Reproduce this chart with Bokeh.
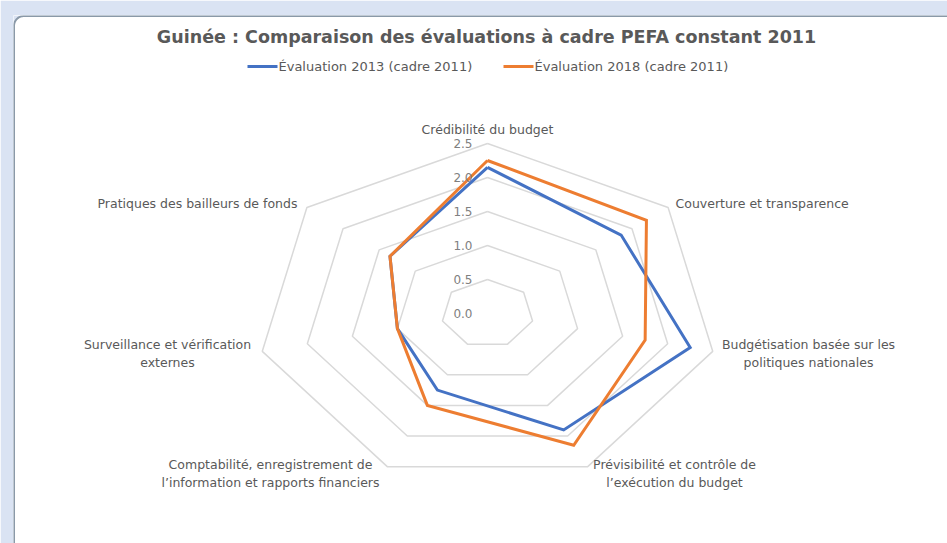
import numpy as np
from bokeh.plotting import figure
from bokeh.models import Range1d
from bokeh.embed import file_html
from bokeh.resources import INLINE
from bokeh.core.properties import value

# ---------------- data ----------------
categories = [
    "Crédibilité du budget",
    "Couverture et transparence",
    "Budgétisation basée sur les\npolitiques nationales",
    "Prévisibilité et contrôle de\nl’exécution du budget",
    "Comptabilité, enregistrement de\nl’information et rapports financiers",
    "Surveillance et vérification\nexternes",
    "Pratiques des bailleurs de fonds",
]
eval_2013 = [2.15, 1.85, 2.25, 1.90, 1.25, 1.00, 1.35]
eval_2018 = [2.25, 2.20, 1.75, 2.15, 1.50, 1.00, 1.35]
series_names = ["Évaluation 2013 (cadre 2011)", "Évaluation 2018 (cadre 2011)"]
ring_values = [0.5, 1.0, 1.5, 2.0, 2.5]
tick_values = [0.0, 0.5, 1.0, 1.5, 2.0, 2.5]
tick_labels = ["0.0", "0.5", "1.0", "1.5", "2.0", "2.5"]
title_text = "Guinée : Comparaison des évaluations à cadre PEFA constant 2011"

# ---------------- layout ----------------
W, H = 947, 543
CX, CY = 487, 313          # radar centre (window px)
KX, KY = 92.4, 68.0        # px per unit horizontally / vertically
FL, FT = 13, 15            # frame left / top (window px)
FR, FB = W, H

def dx(px):
    return (px - CX) / KX

def dy(py):
    return (CY - py) / KY

BLUE = "#4472c4"
ORANGE = "#ed7d31"
GRID = "#d9d9d9"
TXT = "#595959"
FONT = value("DejaVu Sans")

p = figure(width=W, height=H, output_backend="svg", toolbar_location=None,
           x_range=Range1d(dx(FL), dx(FR)), y_range=Range1d(dy(FB), dy(FT)),
           min_border_left=FL, min_border_top=FT,
           min_border_right=0, min_border_bottom=0,
           x_axis_location=None, y_axis_location=None)
p.grid.visible = False
p.outline_line_color = None
p.background_fill_color = "white"
p.border_fill_color = "#dae3f3"

n = len(categories)
theta = np.arange(n) * 2 * np.pi / n

def closed(vals):
    v = np.asarray(vals, dtype=float)
    xs = v * np.sin(theta)
    ys = v * np.cos(theta)
    return list(xs) + [xs[0]], list(ys) + [ys[0]]

# card border (left/top, rounded corner)
rc = 10
ang = np.linspace(np.pi, np.pi / 2, 20)
arc_x = [dx(FL + 0.5 + rc + rc * np.cos(a)) for a in ang]
arc_y = [dy(FT + 0.5 + rc - rc * np.sin(a)) for a in ang]
p.patch([dx(FL)] + arc_x + [dx(FL)], [dy(FT + rc)] + arc_y + [dy(FT)],
        fill_color="#dae3f3", line_color=None)
p.line([dx(FL + 0.5)] + arc_x + [dx(FR)], [dy(FB)] + arc_y + [dy(FT + 0.5)],
       line_color="#8a99a8", line_width=2)

# rings
for r in ring_values:
    xs, ys = closed([r] * n)
    p.line(xs, ys, line_color=GRID, line_width=1.5)

# series
for vals, col in [(eval_2013, BLUE), (eval_2018, ORANGE)]:
    xs, ys = closed(vals)
    p.line(xs, ys, line_color=col, line_width=3, line_join="miter")

# radial tick labels
p.text(x=[dx(472)] * len(tick_values), y=tick_values, text=tick_labels,
       text_align="right", text_baseline="middle", text_font=FONT,
       text_font_size="12px", text_color="#808080")

# category labels
lab_px = [(487, 129, "center"), (675, 203, "left"), (808, 353, "center"),
          (674, 473, "center"), (270, 473, "center"), (167, 353, "center"),
          (197, 203, "center")]
for (px, py, al), name in zip(lab_px, categories):
    p.text(x=[dx(px)], y=[dy(py)], text=[name], text_align=al,
           text_baseline="middle", text_font=FONT, text_font_size="12.5px",
           text_color=TXT, text_line_height=1.15)

# title
p.text(x=[dx(486)], y=[dy(36)], text=[title_text], text_align="center",
       text_baseline="middle", text_font=FONT, text_font_size="17.5px",
       text_font_style="bold", text_color=TXT)

# legend
leg = [(247, 277, series_names[0], BLUE), (503, 533, series_names[1], ORANGE)]
for x0, x1, name, col in leg:
    p.line([dx(x0), dx(x1)], [dy(66), dy(66)], line_color=col, line_width=3)
    p.text(x=[dx(x1 + 1)], y=[dy(66)], text=[name], text_align="left",
           text_baseline="middle", text_font=FONT, text_font_size="13px",
           text_color=TXT)

html = file_html(p, INLINE)
open("out.html", "w").write(html)
